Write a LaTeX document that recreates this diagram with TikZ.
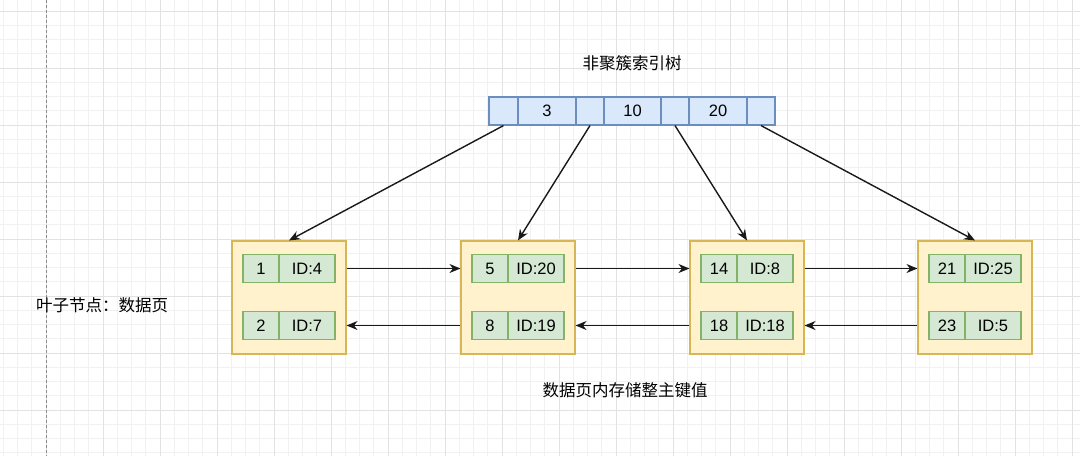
\documentclass[tikz,border=0pt]{standalone}
\usepackage{fontspec}
\setmainfont{Liberation Sans}
\newfontfamily\cjk{Noto Sans CJK SC}
\usetikzlibrary{arrows.meta}
\definecolor{blueF}{HTML}{DAE8FC}
\definecolor{blueS}{HTML}{6C8EBF}
\definecolor{yelF}{HTML}{FFF2CC}
\definecolor{yelS}{HTML}{D6B656}
\definecolor{grnF}{HTML}{D5E8D4}
\definecolor{grnS}{HTML}{82B366}
\definecolor{gridMinor}{HTML}{F1F1F1}
\definecolor{gridMajor}{HTML}{E2E2E2}
\tikzset{
  numfont/.style={font=\fontsize{16.5}{18}\selectfont},
  tcell/.style={draw=blueS, fill=blueF, minimum height=28pt, inner sep=0pt, line width=1.1pt, numfont},
  leaf/.style={draw=yelS, fill=yelF, minimum width=114pt, minimum height=113pt, inner sep=0pt, line width=1.1pt},
  kcell/.style={draw=grnS, fill=grnF, minimum width=36pt, minimum height=28pt, inner sep=0pt, line width=1.1pt, numfont},
  icell/.style={draw=grnS, fill=grnF, minimum width=56pt, minimum height=28pt, inner sep=0pt, line width=1.1pt, numfont},
  arr/.style={-{Stealth[length=11pt,width=9pt]}, line width=1.4pt, black!90},
  lbl/.style={font=\cjk\fontsize{16.5}{18}\selectfont, inner sep=0pt}
}
\begin{document}
\begin{tikzpicture}[x=1pt, y=-1pt]
\useasboundingbox (0,0) rectangle (1080,456);
\fill[white] (0,0) rectangle (1080,456);
\begin{scope}
\clip (0,0) rectangle (1080,456);
\foreach \i in {0,...,80} {
  \draw[gridMinor, line width=0.6pt] ({-11+14.25*\i},0) -- ({-11+14.25*\i},456);
}
\foreach \i in {0,...,36} {
  \draw[gridMinor, line width=0.6pt] (0,{-46+14.25*\i}) -- (1080,{-46+14.25*\i});
}
\foreach \i in {0,...,20} {
  \draw[gridMajor, line width=0.7pt] ({-11+57*\i},0) -- ({-11+57*\i},456);
}
\foreach \i in {0,...,9} {
  \draw[gridMajor, line width=0.7pt] (0,{-46+57*\i}) -- (1080,{-46+57*\i});
}
\end{scope}
\draw[black!45, line width=0.7pt, dash pattern=on 3pt off 2pt] (46,0) -- (46,456);

% titles
\node[lbl] (title) at (632,63) {非聚簇索引树};
\node[lbl, anchor=west] (leaflbl) at (36,305) {叶子节点：数据页};
\node[lbl] (bottom) at (625,390) {数据页内存储整主键值};

% top index node
\node[tcell, minimum width=29pt] (t1) at (503.5,111) {};
\node[tcell, minimum width=58pt] (t2) at (547,111) {3};
\node[tcell, minimum width=28pt] (t3) at (590,111) {};
\node[tcell, minimum width=57pt] (t4) at (632.5,111) {10};
\node[tcell, minimum width=28pt] (t5) at (675,111) {};
\node[tcell, minimum width=58pt] (t6) at (718,111) {20};
\node[tcell, minimum width=28pt] (t7) at (761,111) {};

% leaves
\foreach \i/\lx/\ka/\ia/\kb/\ib in {1/232/1/4/2/7, 2/461/5/20/8/19, 3/690/14/8/18/18, 4/918/21/25/23/5} {
  \node[leaf] (L\i) at ({\lx+57},297.5) {};
  \node[kcell] (ka\i) at ({\lx+29},268.5) {\ka};
  \node[icell] (ia\i) at ({\lx+75},268.5) {ID:\ia};
  \node[kcell] (kb\i) at ({\lx+29},325.5) {\kb};
  \node[icell] (ib\i) at ({\lx+75},325.5) {ID:\ib};
}

% tree arrows
\draw[arr] (t1.south) -- (L1.north);
\draw[arr] (t3.south) -- (L2.north);
\draw[arr] (t5.south) -- (L3.north);
\draw[arr] (t7.south) -- (L4.north);

% leaf links
\foreach \a/\b in {1/2, 2/3, 3/4} {
  \draw[arr] (L\a.east |- ia\a.east) -- (L\b.west |- ka\b.west);
  \draw[arr] (L\b.west |- kb\b.west) -- (L\a.east |- ib\a.east);
}
\end{tikzpicture}
\end{document}
